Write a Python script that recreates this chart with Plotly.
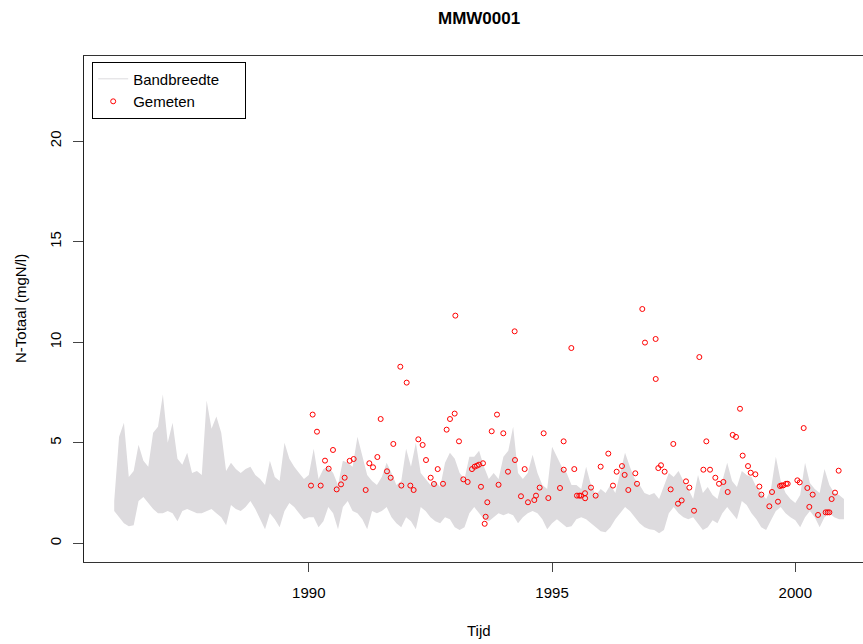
import numpy as np
import plotly.graph_objects as go

# Bandwidth envelope (mgN/l), sampled every 0.1 year from 1986.0 to 2001.0
band_start = 1986.0
band_step = 0.1
band_upper = [
    2.1, 5.3, 6.0, 3.3, 3.6, 4.9, 4.1, 3.8, 5.5, 5.8,
    7.4, 5.0, 6.0, 4.2, 3.9, 4.5, 3.5, 3.6, 3.4, 7.1,
    5.7, 6.3, 5.5, 3.6, 4.0, 3.7, 3.5, 3.7, 3.8, 3.4,
    3.2, 2.9, 4.1, 3.3, 3.1, 5.0, 4.2, 3.8, 3.5, 3.2,
    3.4, 4.7, 3.2, 3.7, 3.8, 3.5, 2.9, 4.1, 4.0, 3.8,
    5.3, 4.3, 3.4, 3.1, 2.9, 3.3, 4.0, 3.5, 2.9, 3.1,
    4.7, 3.8, 5.0, 3.5, 3.2, 2.9, 3.1, 2.8, 4.0, 4.5,
    4.2, 3.5, 3.2, 4.3, 4.3, 4.6, 3.8, 3.2, 3.5, 3.2,
    4.3, 4.6, 5.8, 3.5, 3.2, 3.5, 4.4, 3.5, 2.9, 2.7,
    4.8, 4.3, 3.8, 3.5, 2.9, 2.9, 2.7, 3.8, 2.9, 2.4,
    2.7, 2.5, 2.9, 2.5, 3.5, 4.5, 3.8, 3.2, 2.9, 2.5,
    2.4, 2.5, 2.2, 2.9, 3.5, 3.3, 3.6, 3.1, 2.7, 2.2,
    3.4, 2.5, 2.8, 2.4, 2.2, 3.1, 4.0, 3.1, 2.8, 3.6,
    3.4, 3.3, 2.8, 2.5, 2.2, 2.7, 4.3, 3.1, 2.5, 2.2,
    2.0, 2.4, 4.0, 3.0, 2.7, 2.5, 3.7, 2.9, 2.5, 2.4,
    2.2,
]
band_lower = [
    1.6, 1.3, 1.0, 0.85, 0.9, 2.1, 2.3, 2.0, 1.7, 1.5,
    1.5, 1.6, 1.5, 1.1, 1.6, 1.7, 1.6, 1.5, 1.5, 1.6,
    1.7, 1.5, 1.3, 0.9, 1.9, 1.7, 1.6, 1.8, 2.1, 1.7,
    1.2, 0.7, 1.5, 1.2, 0.8, 1.6, 2.0, 1.8, 1.5, 1.2,
    1.3, 1.3, 0.8, 1.1, 1.8, 1.5, 0.7, 1.8, 2.1, 1.6,
    1.5, 1.2, 0.7, 1.6, 1.5, 1.6, 1.8, 1.3, 1.0, 0.8,
    1.3, 1.1, 0.7, 1.8, 1.6, 1.3, 1.1, 1.0, 1.3, 1.2,
    0.8, 0.66, 0.8, 1.5, 1.8, 1.5, 1.2, 1.1, 1.3, 1.5,
    1.4, 1.5, 1.4, 1.0, 1.3, 1.5, 1.6, 1.5, 1.2, 0.7,
    1.0, 1.2, 1.0, 0.8, 0.85, 1.2, 1.3, 1.2, 1.0, 0.8,
    0.6, 0.55, 0.8, 1.2, 1.5, 1.8, 1.6, 1.3, 1.0, 0.8,
    0.7, 0.66, 0.5, 0.66, 1.5, 1.8, 1.5, 1.3, 1.2, 1.3,
    1.0, 0.66, 0.8, 1.15, 1.0, 1.5, 1.8, 1.5, 1.2, 2.1,
    1.9, 1.5, 1.2, 0.8, 0.66, 1.15, 1.6, 1.8, 1.5, 1.3,
    1.15, 0.8, 1.3, 1.6, 1.3, 0.8, 1.3, 1.5, 1.3, 1.2,
    1.2,
]

# Measured N-total concentrations (decimal year, mgN/l)
meas_time = [
    1990.045, 1990.079, 1990.168, 1990.244, 1990.333, 1990.408, 1990.497, 1990.573,
    1990.662, 1990.737, 1990.840, 1990.922, 1991.169, 1991.244, 1991.320, 1991.409,
    1991.477, 1991.607, 1991.683, 1991.737, 1991.881, 1991.902, 1992.012, 1992.087,
    1992.155, 1992.251, 1992.340, 1992.409, 1992.505, 1992.573, 1992.649, 1992.758,
    1992.833, 1992.902, 1992.998, 1993.012, 1993.087, 1993.176, 1993.265, 1993.354,
    1993.409, 1993.457, 1993.498, 1993.539, 1993.580, 1993.615, 1993.635, 1993.669,
    1993.759, 1993.868, 1993.900, 1993.998, 1994.094, 1994.231, 1994.238, 1994.361,
    1994.437, 1994.505, 1994.635, 1994.670, 1994.745, 1994.827, 1994.923, 1995.163,
    1995.238, 1995.240, 1995.396, 1995.457, 1995.512, 1995.560, 1995.594, 1995.677,
    1995.680, 1995.800, 1995.896, 1995.999, 1996.156, 1996.252, 1996.328, 1996.437,
    1996.492, 1996.567, 1996.711, 1996.746, 1996.855, 1996.910, 1997.129, 1997.131,
    1997.184, 1997.239, 1997.314, 1997.438, 1997.492, 1997.588, 1997.664, 1997.753,
    1997.822, 1997.918, 1998.027, 1998.110, 1998.171, 1998.247, 1998.356, 1998.432,
    1998.521, 1998.610, 1998.713, 1998.781, 1998.863, 1998.918, 1999.028, 1999.083,
    1999.179, 1999.261, 1999.302, 1999.466, 1999.521, 1999.644, 1999.686, 1999.720,
    1999.754, 1999.809, 1999.843, 2000.042, 2000.090, 2000.172, 2000.247, 2000.288,
    2000.357, 2000.467, 2000.624, 2000.665, 2000.700, 2000.747, 2000.816, 2000.891,
]
meas_value = [
    2.87, 6.40, 5.55, 2.87, 4.11, 3.71, 4.64, 2.68,
    2.93, 3.26, 4.10, 4.19, 2.65, 3.98, 3.78, 4.29,
    6.18, 3.58, 3.26, 4.94, 8.78, 2.87, 7.99, 2.87,
    2.65, 5.17, 4.89, 4.14, 3.26, 2.95, 3.69, 2.96,
    5.65, 6.18, 6.45, 11.32, 5.07, 3.18, 3.05, 3.69,
    3.81, 3.86, 3.91, 2.81, 3.98, 0.97, 1.32, 2.04,
    5.57, 6.40, 2.91, 5.47, 3.56, 10.54, 4.14, 2.34,
    3.69, 2.04, 2.15, 2.37, 2.77, 5.47, 2.25, 2.75,
    5.07, 3.66, 9.71, 3.69, 2.37, 2.37, 2.37, 2.49,
    2.24, 2.77, 2.37, 3.81, 4.46, 2.87, 3.56, 3.84,
    3.40, 2.65, 3.48, 2.96, 11.65, 9.98, 10.16, 8.17,
    3.74, 3.88, 3.56, 2.68, 4.94, 1.97, 2.13, 3.08,
    2.77, 1.62, 9.26, 3.66, 5.07, 3.66, 3.26, 2.96,
    3.05, 2.55, 5.39, 5.29, 6.69, 4.36, 3.84, 3.51,
    3.43, 2.82, 2.42, 1.84, 2.55, 2.07, 2.85, 2.88,
    2.88, 2.96, 2.96, 3.13, 3.03, 5.73, 2.75, 1.81,
    2.42, 1.41, 1.54, 1.54, 1.54, 2.20, 2.52, 3.61,
]

x_ticks = [1990, 1995, 2000]
y_ticks = [0, 5, 10, 15, 20]

band_color = "#dddbde"
font_family = "Liberation Sans, Arial, sans-serif"

band_time = band_start + band_step * np.arange(len(band_upper))

fig = go.Figure()
fig.add_trace(go.Scatter(
    x=band_time, y=band_lower, mode="lines", line=dict(width=0, color=band_color),
    showlegend=False, hoverinfo="skip",
))
fig.add_trace(go.Scatter(
    x=band_time, y=band_upper, mode="lines", line=dict(width=0, color=band_color),
    fill="tonexty", fillcolor=band_color, showlegend=False, hoverinfo="skip",
))
# legend entry for the band, drawn as a plain line like the R legend
# (trailing spaces widen the legend box)
fig.add_trace(go.Scatter(
    x=[None], y=[None], mode="lines", line=dict(width=1, color=band_color),
    name="Bandbreedte" + "&nbsp;" * 5,
))
fig.add_trace(go.Scatter(
    x=meas_time, y=meas_value, mode="markers", name="Gemeten",
    marker=dict(symbol="circle-open", size=5, color="#ff0000", line=dict(width=1, color="#ff0000")),
))

W, H = 863, 644
L, T, B = 84, 56, 82
plot_w = W - L
px_per_year = 48.65
x0 = 1985.379
x1 = x0 + plot_w / px_per_year

fig.update_layout(
    width=W, height=H,
    margin=dict(l=L, r=0, t=T, b=B),
    paper_bgcolor="white", plot_bgcolor="white",
    font=dict(family=font_family, size=15, color="black"),
    showlegend=True,
    legend=dict(
        x=0.0105, y=0.989, xanchor="left", yanchor="top",
        bordercolor="black", borderwidth=1, bgcolor="white",
        font=dict(size=15), tracegroupgap=0, itemwidth=30,
        traceorder="normal",
    ),
    xaxis=dict(
        range=[x0, x1], tickvals=x_ticks, ticktext=[str(v) for v in x_ticks],
        showgrid=False, zeroline=False,
        showline=True, linecolor="#333333", linewidth=1.2, mirror=True,
        ticks="outside", ticklen=9, tickcolor="#444444", tickwidth=1,
        ticklabelstandoff=8,
    ),
    yaxis=dict(
        range=[-0.93, 24.23], tickvals=y_ticks, ticktext=[str(v) for v in y_ticks],
        showgrid=False, zeroline=False,
        showline=True, linecolor="#222222", linewidth=1, mirror=False,
        ticks="outside", ticklen=10, tickcolor="#444444", tickwidth=1,
        tickangle=-90, ticklabelstandoff=6,
    ),
    annotations=[
        dict(text="<b>MMW0001</b>", xref="paper", yref="paper",
             x=(478.5 - L) / plot_w, y=(H - B - 19) / (H - T - B),
             showarrow=False, font=dict(size=17), xanchor="center", yanchor="middle"),
        dict(text="Tijd", xref="paper", yref="paper",
             x=(478.5 - L) / plot_w, y=(H - B - 631) / (H - T - B),
             showarrow=False, font=dict(size=15), xanchor="center", yanchor="middle"),
        dict(text="N-Totaal (mgN/l)", xref="paper", yref="paper",
             x=(20 - L) / plot_w, y=0.5, textangle=-90,
             showarrow=False, font=dict(size=15), xanchor="center", yanchor="middle"),
    ],
)

fig.write_html("out.html")
